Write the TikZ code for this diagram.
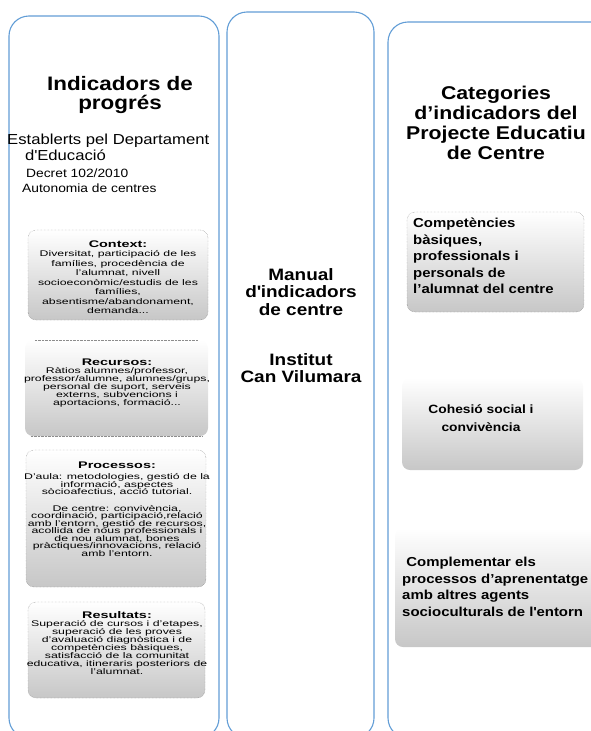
\documentclass[tikz,border=0pt]{standalone}
\usepackage{fontspec}
\setmainfont{Liberation Sans}[FakeStretch=1.15]
\newfontfamily\boxfont{Liberation Sans}[FakeStretch=1.5]
\usepackage{tikz}
\definecolor{panelblue}{RGB}{98,157,214}
\AtBeginDocument{\lineskiplimit=-50pt}
\newcommand{\boxhead}[1]{{\bfseries\fontsize{9.6}{9}\selectfont #1}}

\tikzset{
	panel/.style={draw=panelblue, line width=1.1pt, rounded corners=20pt},
	infobox/.style={rounded corners=8pt, top color=white, middle color=white, bottom color=black!22, minimum width=#1},
	dotbox/.style={infobox=#1, draw=black!55, densely dotted},
	dotline/.style={draw=black!45, densely dotted},
	boxtext/.style={inner sep=0pt, align=center, font=\boxfont\fontsize{8.2}{#1}\selectfont},
	cattext/.style={inner sep=0pt, font=\bfseries\fontsize{13}{16.5}\selectfont},
}

\begin{document}
\begin{tikzpicture}[x=1pt,y=-1pt]
		\useasboundingbox (0,0) rectangle (590,731);

		\draw[panel] (9,16) rectangle (219,738);
		\draw[panel] (227,12) rectangle (374,738);
		\draw[panel] (388,22) rectangle (615,738);

		\node[inner sep=0pt, align=center, font=\bfseries\fontsize{19.5}{19}\selectfont] (indtitle) at (120,95) {Indicadors de\\progrés};
		\node[inner sep=0pt, align=left, anchor=west, font=\fontsize{14.5}{16}\selectfont] (dept) at (7,147) {Establerts pel Departament\\\hspace*{18pt}d\textquotesingle Educació};
		\node[inner sep=0pt, anchor=base west, font=\fontsize{12}{14}\selectfont] (decret) at (26,177) {Decret 102/2010};
		\node[inner sep=0pt, anchor=base west, font=\fontsize{12}{14}\selectfont] (autonomia) at (22,192) {Autonomia de centres};

		\node[dotbox=180pt, minimum height=90pt] (ctxbox) at (118,275) {};
		\node[infobox=183pt, minimum height=96pt] (recbox) at (116.5,388) {};
		\node[dotbox=180pt, minimum height=137pt] (probox) at (116,518.5) {};
		\node[dotbox=177pt, minimum height=96pt] (resbox) at (116.5,650) {};
		\path[dotline] ([xshift=10pt]recbox.north west) edge ([xshift=-10pt]recbox.north east);
		\path[dotline] ([xshift=6pt]recbox.south west) edge ([xshift=-6pt]recbox.south east);

		\node[boxtext=9.5] (ctx) at (118,277) {\boxhead{Context:}\\Diversitat, participació de les\\famílies, procedència de\\l’alumnat, nivell\\socioeconòmic/estudis de les\\famílies,\\absentisme/abandonament,\\demanda...};
		\node[boxtext=8] (rec) at (117,383) {\boxhead{Recursos:}\\Ràtios alumnes/professor,\\professor/alumne, alumnes/grups,\\personal de suport, serveis\\externs, subvencions i\\aportacions, formació...};
		\node[boxtext=7.5] (pro) at (117,509) {\boxhead{Processos:}\\[4pt]D’aula: metodologies, gestió de la\\informació, aspectes\\sòcioafectius, acció tutorial.\\[9pt]De centre: convivència,\\coordinació, participació,relació\\amb l’entorn, gestió de recursos,\\acollida de nous professionals i\\de nou alumnat, bones\\pràctiques/innovacions, relació\\amb l’entorn.};
		\node[boxtext=8.1] (res) at (117,643) {\boxhead{Resultats:}\\Superació de cursos i d’etapes,\\superació de les proves\\d’avaluació diagnòstica i de\\competències bàsiques,\\satisfacció de la comunitat\\educativa, itineraris posteriors de\\l’alumnat.};

		\node[inner sep=0pt, align=center, font=\bfseries\fontsize{16.5}{17.5}\selectfont] (manual) at (301,292) {Manual\\d\textquotesingle indicadors\\de centre};
		\node[inner sep=0pt, align=center, font=\bfseries\fontsize{16.5}{17}\selectfont] (institut) at (301,368) {Institut\\Can Vilumara};

		\node[inner sep=0pt, align=center, font=\bfseries\fontsize{18.5}{20}\selectfont] (cattitle) at (496,123) {Categories\\d’indicadors del\\Projecte Educatiu\\de Centre};

		\node[dotbox=177pt, minimum height=100pt] (compbox) at (495.5,262) {};
		\node[infobox=181pt, minimum height=92pt] (cohbox) at (492.5,424) {};
		\node[infobox=205pt, minimum height=119pt] (combox) at (497.5,587.5) {};

		\node[cattext, align=left, anchor=west] (comp) at (413,256) {Competències\\bàsiques,\\professionals i\\personals de\\l’alumnat del centre};
		\node[cattext, align=center, font=\bfseries\fontsize{12}{18}\selectfont] (coh) at (481,418) {Cohesió social i\\convivència};
		\node[cattext, align=left, anchor=west] (com) at (402,587) {\ Complementar els\\processos d’aprenentatge\\amb altres agents\\socioculturals de l\textquotesingle entorn};
	\end{tikzpicture}
\end{document}
